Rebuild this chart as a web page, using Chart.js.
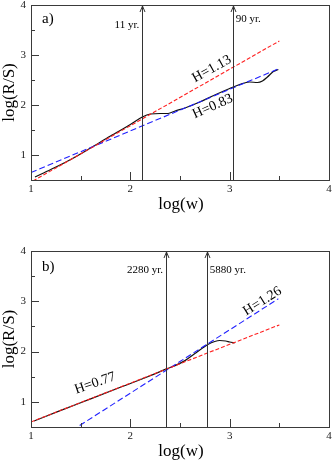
<!DOCTYPE html>
<html><head><meta charset="utf-8">
<script src="https://cdn.jsdelivr.net/npm/chart.js@4/dist/chart.umd.min.js"></script>
<style>
html,body{margin:0;padding:0;background:#fff;}
#wrap{position:relative;width:332px;height:461px;overflow:hidden;}
canvas{position:absolute;left:0;}
</style></head><body>
<div id="wrap">
<canvas id="c1" width="332" height="230" style="top:0px"></canvas>
<canvas id="c2" width="332" height="231" style="top:230px"></canvas>
</div>
<script>
// ---- Data ----
const xTicks = [1, 2, 3, 4];
const xMinor = [1.5, 2.5, 3.5];
const yTicks = [1, 2, 3, 4];
const yMinor = [1.5, 2.5, 3.5];

// panel a
const aCurveX = [1.04,1.2,1.4,1.6,1.8,2.0,2.12,2.2,2.3,2.38,2.45,2.55,2.7,2.85,3.0,3.1,3.2,3.28,3.33,3.38,3.44,3.49];
const aCurveY = [0.56,0.71,0.91,1.14,1.38,1.61,1.76,1.82,1.83,1.83,1.88,1.94,2.06,2.20,2.33,2.41,2.46,2.45,2.48,2.56,2.67,2.71];
const aRedX = [1.02, 3.5];
const aRedY = [0.48, 3.28];
const aBlueX = [1.0, 3.5];
const aBlueY = [0.65, 2.73];
const aArrowX = [2.12, 3.03];
const aArrowLabels = ['11 yr.', '90 yr.'];
const aFitLabels = ['H=1.13', 'H=0.83'];

// panel b
const bCurveX = [1.03,1.3,1.6,1.9,2.2,2.37,2.45,2.55,2.65,2.72,2.78,2.85,2.9,2.96,3.0,3.05];
const bCurveY = [0.62,0.83,1.06,1.29,1.52,1.66,1.72,1.82,1.96,2.06,2.14,2.2,2.22,2.21,2.19,2.17];
const bRedX = [1.0, 3.5];
const bRedY = [0.6, 2.53];
const bBlueX = [1.49, 3.49];
const bBlueY = [0.53, 3.05];
const bArrowX = [2.36, 2.77];
const bArrowLabels = ['2280 yr.', '5880 yr.'];
const bFitLabels = ['H=0.77', 'H=1.26'];

function pts(xs, ys){ return xs.map((x,i)=>({x:x, y:ys[i]})); }

const SERIF = '"Liberation Serif","DejaVu Serif",serif';
const FRAME = '#3a3a3a';

function makePlugin(cfg){
  return {
    id: 'deco',
    afterDraw(chart){
      const ctx = chart.ctx, a = chart.chartArea;
      const xs = chart.scales.x, ys = chart.scales.y;
      ctx.save();
      // arrows
      ctx.strokeStyle = '#333'; ctx.lineWidth = 1;
      cfg.arrows.forEach(v=>{
        const px = Math.round(xs.getPixelForValue(v)) + 0.5;
        ctx.beginPath(); ctx.moveTo(px, a.bottom); ctx.lineTo(px, a.top+1); ctx.stroke();
        ctx.beginPath(); ctx.moveTo(px-2.5, a.top+7); ctx.lineTo(px, a.top+1); ctx.lineTo(px+2.5, a.top+7); ctx.stroke();
      });
      // frame
      ctx.strokeStyle = FRAME; ctx.lineWidth = 1;
      ctx.strokeRect(Math.round(a.left)+0.5, Math.round(a.top)+0.5, Math.round(a.right-a.left), Math.round(a.bottom-a.top));
      // ticks
      ctx.beginPath();
      xTicks.forEach(v=>{ const p=Math.round(xs.getPixelForValue(v))+0.5; ctx.moveTo(p,a.bottom); ctx.lineTo(p,a.bottom-8); });
      xMinor.forEach(v=>{ const p=Math.round(xs.getPixelForValue(v))+0.5; ctx.moveTo(p,a.bottom); ctx.lineTo(p,a.bottom-4); });
      yTicks.forEach(v=>{ const p=Math.round(ys.getPixelForValue(v))+0.5; ctx.moveTo(a.left,p); ctx.lineTo(a.left+8,p); });
      yMinor.forEach(v=>{ const p=Math.round(ys.getPixelForValue(v))+0.5; ctx.moveTo(a.left,p); ctx.lineTo(a.left+4,p); });
      ctx.stroke();
      // tick labels
      ctx.fillStyle = '#222';
      ctx.font = '11px ' + SERIF;
      ctx.textAlign = 'center'; ctx.textBaseline = 'middle';
      xTicks.forEach(v=>{ ctx.fillText(String(v), xs.getPixelForValue(v), a.bottom + 9); });
      ctx.textAlign = 'right';
      yTicks.forEach(v=>{ ctx.fillText(String(v), a.left - 5, ys.getPixelForValue(v)); });
      // axis titles
      ctx.fillStyle = '#000';
      ctx.font = '17px ' + SERIF;
      ctx.textAlign = 'center';
      ctx.fillText('log(w)', (a.left + a.right)/2 + 1, a.bottom + cfg.xTitleDy);
      ctx.save();
      ctx.translate(10, (a.top + a.bottom)/2);
      ctx.rotate(-Math.PI/2);
      ctx.fillText('log(R/S)', 0, 0);
      ctx.restore();
      // panel label
      ctx.font = '15px ' + SERIF; ctx.textAlign = 'left';
      ctx.fillText(cfg.panel, a.left + 11, a.top + cfg.panelDy);
      // arrow labels
      ctx.font = '11px ' + SERIF;
      cfg.arrowText.forEach(t=>{
        const px = xs.getPixelForValue(t.x);
        ctx.textAlign = t.side < 0 ? 'right' : 'left';
        ctx.fillText(t.label, px + t.side*3, a.top + t.dy);
      });
      // fit labels
      ctx.font = '14px ' + SERIF; ctx.textAlign = 'center';
      cfg.fitText.forEach(t=>{
        ctx.save();
        ctx.translate(xs.getPixelForValue(t.x), ys.getPixelForValue(t.y));
        ctx.rotate(-t.ang*Math.PI/180);
        ctx.fillText(t.label, 0, 0);
        ctx.restore();
      });
      ctx.restore();
    }
  };
}

function makeChart(id, curveX, curveY, redX, redY, blueX, blueY, pad, cfg){
  return new Chart(document.getElementById(id), {
    type: 'scatter',
    data: { datasets: [
      { data: pts(redX, redY), showLine: true, borderColor: '#ff2020', borderWidth: 1.1, borderDash: [4,2], pointRadius: 0, order: 1 },
      { data: pts(blueX, blueY), showLine: true, borderColor: '#2020ff', borderWidth: 1.1, borderDash: [6,3], pointRadius: 0, order: 1 },
      { data: pts(curveX, curveY), showLine: true, borderColor: '#111', borderWidth: 1.2, cubicInterpolationMode: 'monotone', pointRadius: 0, order: 2 }
    ]},
    options: {
      responsive: false, animation: false, devicePixelRatio: 1,
      layout: { padding: pad },
      plugins: { legend: { display: false }, tooltip: { enabled: false } },
      scales: {
        x: { type: 'linear', min: 1, max: 4, display: false },
        y: { type: 'linear', min: 0.5, max: 4, display: false }
      }
    },
    plugins: [makePlugin(cfg)]
  });
}

makeChart('c1', aCurveX, aCurveY, aRedX, aRedY, aBlueX, aBlueY,
  { left: 31, right: 3, top: 5, bottom: 50 },
  { panel: 'a)', panelDy: 14, xTitleDy: 25, arrows: aArrowX,
    arrowText: [ { x: aArrowX[0], label: aArrowLabels[0], side: -1, dy: 20 },
                 { x: aArrowX[1], label: aArrowLabels[1], side: 1, dy: 14 } ],
    fitText: [ { x: 2.82, y: 2.72, label: aFitLabels[0], ang: 29 },
               { x: 2.83, y: 1.97, label: aFitLabels[1], ang: 24 } ] });

makeChart('c2', bCurveX, bCurveY, bRedX, bRedY, bBlueX, bBlueY,
  { left: 31, right: 3, top: 21, bottom: 34 },
  { panel: 'b)', panelDy: 16, xTitleDy: 25, arrows: bArrowX,
    arrowText: [ { x: bArrowX[0], label: bArrowLabels[0], side: -1, dy: 19 },
                 { x: bArrowX[1], label: bArrowLabels[1], side: 1, dy: 19 } ],
    fitText: [ { x: 1.646, y: 1.37, label: bFitLabels[0], ang: 19 },
               { x: 3.33, y: 3.0, label: bFitLabels[1], ang: 32 } ] });
</script>
</body></html>
